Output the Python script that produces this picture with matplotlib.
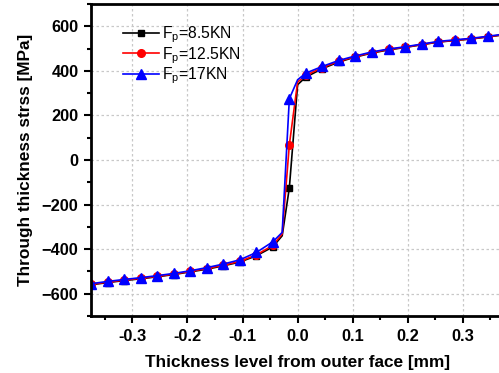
import matplotlib
matplotlib.use('Agg')
import matplotlib.pyplot as plt
from matplotlib.ticker import MultipleLocator

plt.rcParams['font.family'] = ['Liberation Sans', 'DejaVu Sans']
plt.rcParams['mathtext.fontset'] = 'custom'
plt.rcParams['mathtext.rm'] = 'Liberation Sans'

# thickness positions (mm); the two points at -0.028 and 0.0 carry no marker
x = [-0.375, -0.345, -0.315, -0.285, -0.255, -0.225, -0.195, -0.165, -0.135,
     -0.105, -0.075, -0.045, -0.028, -0.015, 0.0, 0.015, 0.045, 0.075, 0.105,
     0.135, 0.165, 0.195, 0.225, 0.255, 0.285, 0.315, 0.345, 0.375]

stress_85 = [-560, -550, -541, -533, -524, -514, -502, -490, -475,
             -458, -430, -390, -340, -125, 338, 372, 410, 440, 462,
             480, 494, 505, 517, 529, 536, 543, 552, 562]
stress_125 = [-558, -548, -539, -531, -522, -512, -500, -487, -472,
              -455, -426, -383, -332, 68, 350, 380, 415, 443, 464,
              482, 496, 506, 518, 530, 537, 544, 553, 563]
stress_17 = [-555, -545, -536, -528, -519, -509, -497, -483, -467,
             -448, -415, -367, -325, 275, 360, 390, 420, 447, 467,
             485, 498, 508, 520, 532, 539, 546, 555, 565]

labels = [r'$\mathregular{F_p}$=8.5KN', r'$\mathregular{F_p}$=12.5KN',
          r'$\mathregular{F_p}$=17KN']

# marker on every point except the two interface points
marked = [i for i in range(len(x)) if x[i] not in (-0.028, 0.0)]

fig = plt.figure(figsize=(4.99, 3.73), dpi=100)
ax = fig.add_axes([0.1824, 0.1528, 0.828, 0.8365])

ax.plot(x, stress_85, color='black', marker='s', markersize=5, lw=1.2,
        markevery=marked, label=labels[0])
ax.plot(x, stress_125, color='red', marker='o', markersize=5.5, lw=1.2,
        markevery=marked, label=labels[1])
ax.plot(x, stress_17, color='blue', marker='^', markersize=7, lw=1.2,
        markevery=marked, label=labels[2])

ax.set_xlim(-0.375, 0.375)
ax.set_ylim(-700, 700)
ax.xaxis.set_major_locator(MultipleLocator(0.1))
ax.xaxis.set_minor_locator(MultipleLocator(0.05))
ax.yaxis.set_major_locator(MultipleLocator(200))
ax.yaxis.set_minor_locator(MultipleLocator(100))
ax.set_xticks([-0.3, -0.2, -0.1, 0.0, 0.1, 0.2, 0.3])
ax.set_xticklabels(['-0.3', '-0.2', '-0.1', '0.0', '0.1', '0.2', '0.3'])

ax.grid(True, which='major', color='#c8c8c8', linestyle=(0, (2, 2)), lw=0.9)
ax.tick_params(which='major', direction='out', length=5, width=1.5,
               labelsize=11.8, pad=4)
ax.tick_params(which='minor', direction='out', length=3, width=1.5)
for lab in ax.get_xticklabels() + ax.get_yticklabels():
    lab.set_fontweight('bold')
for sp in ax.spines.values():
    sp.set_linewidth(2)

ax.set_xlabel('Thickness level from outer face [mm]', fontsize=12.4,
              fontweight='bold', labelpad=8)
ax.set_ylabel('Through thickness strss [MPa]', fontsize=12.4,
              fontweight='bold', labelpad=6)

ax.legend(loc='upper left', bbox_to_anchor=(0.055, 0.965), frameon=False,
          fontsize=11.3, handlelength=2.3, handletextpad=0.2, labelspacing=0.0,
          borderaxespad=0.2)

fig.savefig('out.png', dpi=100)
